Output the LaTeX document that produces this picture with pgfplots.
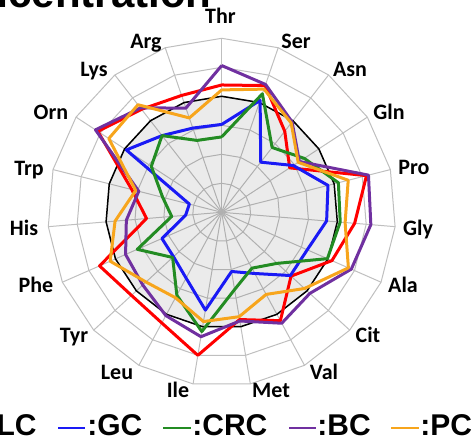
\documentclass[border=0pt]{standalone}
\usepackage{fontspec}
\setmainfont{Carlito}
\newfontfamily\arialf{Liberation Sans}
\usepackage{pgfplots}
\usepackage{pgfplotstable}
\pgfplotsset{compat=1.18}
\definecolor{cRed}{HTML}{FF0000}
\definecolor{cBlue}{HTML}{1A1AF5}
\definecolor{cGreen}{HTML}{238C23}
\definecolor{cPurple}{HTML}{7030A0}
\definecolor{cOrange}{HTML}{F7A51C}
\definecolor{gridc}{HTML}{BFBFBF}

% angle (deg), LC, GC, CRC, BC, PC, reference
\pgfplotstableread{
angle     lc    gc    crc   bc    pc    ref
90        4.39  3.03  2.60  5.06  4.22  4
71.0526   4.62  4.08  4.32  4.66  4.49  4
52.1053   3.54  2.19  2.83  3.95  3.90  4
33.1579   2.80  2.95  3.40  3.20  3.15  4
14.2105   5.15  3.78  4.15  5.22  4.50  4
-4.7368   4.60  3.63  4.10  5.16  4.27  4
-23.6842  4.15  3.22  3.98  4.88  4.77  4
-42.6316  3.25  3.22  2.60  4.13  3.88  4
-61.5789  4.25  2.40  2.19  4.35  3.22  4
-80.5263  3.75  2.07  2.70  3.80  3.65  4
-99.4737  5.00  3.42  4.17  4.35  3.82  4
-118.4211 4.34  2.58  3.25  4.05  3.35  4
-137.3684 4.23  2.26  2.30  3.70  3.55  4
-156.3158 4.60  2.25  3.18  3.62  4.20  4
-175.2632 2.60  1.25  1.73  3.30  3.69  4
-194.2105 3.20  1.15  2.10  2.95  3.06  4
-213.1579 5.10  3.93  2.90  5.20  4.65  4
-232.1053 4.50  3.35  3.35  4.56  4.70  4
-251.0526 4.26  3.07  2.62  3.80  3.44  4
-270      4.39  3.03  2.60  5.06  4.22  4
}\radardata

\begin{document}
\begin{tikzpicture}[x=1pt,y=1pt]
\useasboundingbox (0,0) rectangle (237.5,222);
\clip (0,0) rectangle (237.5,222);
% grid
\begin{scope}[shift={(110.85,115.85)}]
  \foreach \r in {1,...,6}{
    \draw[gridc, line width=0.5pt] (90:\r*14.5)
      \foreach \k in {1,...,18}{ -- ({90-\k*360/19}:\r*14.5) } -- cycle;
  }
  \foreach \k in {0,...,18}{
    \draw[gridc, line width=0.5pt] (0,0) -- ({90-\k*360/19}:87);
  }
\end{scope}
% category labels
\foreach \name/\lx/\ly in {Thr/110.25/214.0, Ser/148/201.5, Asn/175/187.5, Gln/194.5/166,
  Pro/207/138.5, Gly/209/108, Ala/201.5/79.5, Cit/184/54.5, Val/162/36, Met/135.5/27,
  Ile/89/27, Leu/58.5/36, Tyr/37/54.5, Phe/18/79.5, His/12/108, Trp/14.5/138,
  Orn/25.5/166, Lys/47/187.5, Arg/73/201.5}{
  \node[font=\fontsize{11pt}{13pt}\selectfont\bfseries, text height=7.1pt, text depth=0pt, inner sep=0pt, anchor=center]
    at (\lx,\ly) {\name};
}
\begin{axis}[
  at={(0,0)}, anchor=south west,
  scale only axis, width=237.5pt, height=222pt,
  xmin=-7.6448, xmax=8.7345, ymin=-7.9897, ymax=7.3207,
  hide axis, clip=false,
]
\addplot[data cs=polar, black, line width=0.75pt, fill=black, fill opacity=0.08, draw opacity=1] table[x=angle, y=ref] {\radardata};
\addplot[data cs=polar, cRed, line width=1.5pt, line join=round] table[x=angle, y=lc] {\radardata};
\addplot[data cs=polar, cBlue, line width=1.5pt, line join=round] table[x=angle, y=gc] {\radardata};
\addplot[data cs=polar, cGreen, line width=1.5pt, line join=round] table[x=angle, y=crc] {\radardata};
\addplot[data cs=polar, cPurple, line width=1.5pt, line join=round] table[x=angle, y=bc] {\radardata};
\addplot[data cs=polar, cOrange, line width=1.5pt, line join=round] table[x=angle, y=pc] {\radardata};
\end{axis}
% title (cut off at the top, as in the reference)
\node[font=\arialf\fontsize{21pt}{24pt}\selectfont\bfseries, anchor=base east, inner sep=0pt] at (106,218) {Concentration};
% legend
\begin{scope}[font=\arialf\fontsize{15pt}{18pt}\selectfont\bfseries]
\node[anchor=base east, inner sep=0pt] at (18.5,4.5) {LC};
\draw[cBlue, line width=1.15pt] (29,7.85) -- (42.5,7.85);
\node[anchor=base west, inner sep=0pt] at (43.5,4.5) {:GC};
\draw[cGreen, line width=1.15pt] (81.5,7.85) -- (95.5,7.85);
\node[anchor=base west, inner sep=0pt] at (96,4.5) {:CRC};
\draw[cPurple, line width=1.15pt] (144.5,7.85) -- (158,7.85);
\node[anchor=base west, inner sep=0pt] at (158.5,4.5) {:BC};
\draw[cOrange, line width=1.15pt] (195.5,7.85) -- (209.5,7.85);
\node[anchor=base west, inner sep=0pt] at (210,4.5) {:PC};
\end{scope}
\end{tikzpicture}
\end{document}
